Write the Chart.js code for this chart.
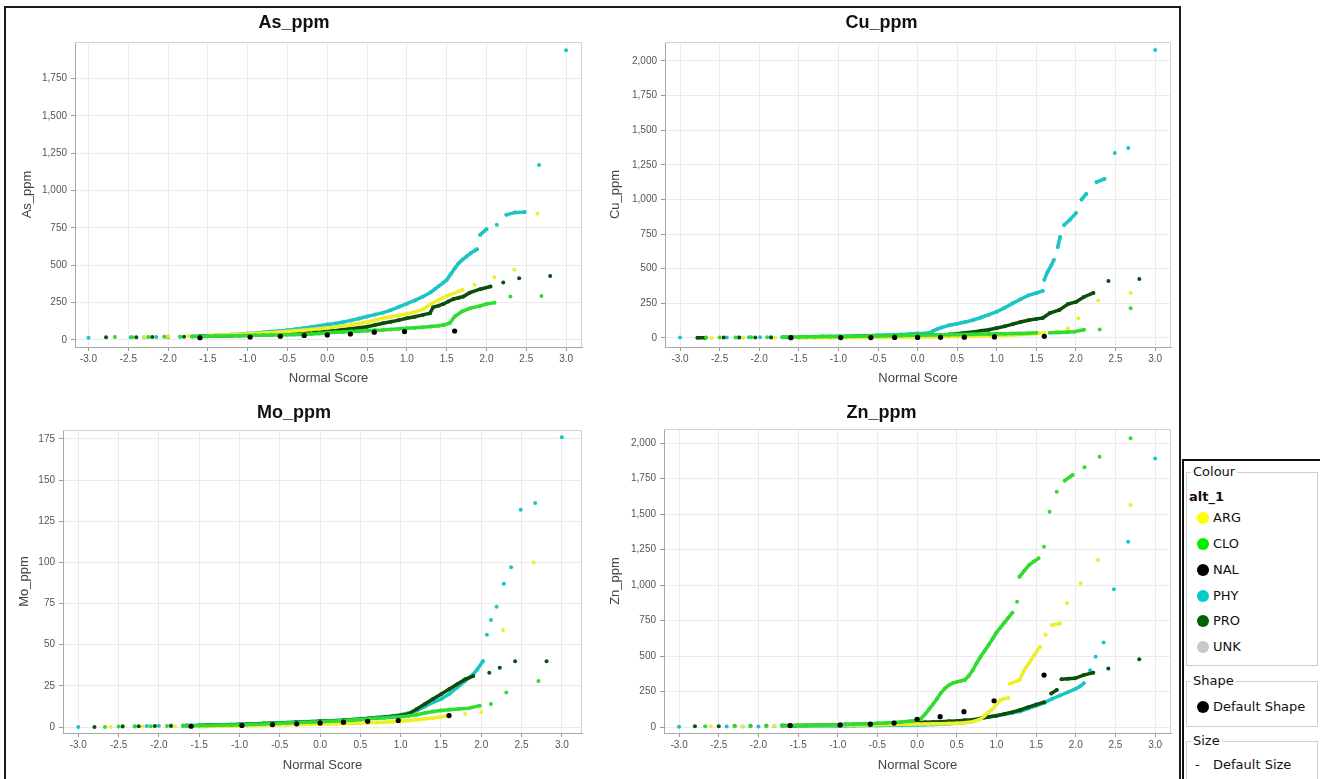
<!DOCTYPE html>
<html>
<head>
<meta charset="utf-8">
<script src="https://cdn.jsdelivr.net/npm/chart.js@4.4.0/dist/chart.umd.min.js"></script>
<style>
  body { margin: 0; width: 1320px; height: 779px; overflow: hidden; position: relative; background: #fff; font-family: "DejaVu Sans", sans-serif; }
  #frame { position: absolute; left: 4px; top: 6px; width: 1177px; height: 800px; border: 2px solid #1a1a1a; box-sizing: border-box; }
  #lgframe { position: absolute; left: 1182px; top: 459px; width: 160px; height: 400px; border: 2px solid #111; box-sizing: border-box; }
  canvas { position: absolute; }
  .box { position: absolute; border: 1px solid #cfcfcf; box-sizing: border-box; }
  .cap { position: absolute; font-size: 13px; line-height: 16px; color: #111; background: #fff; padding: 0 2px; }
  .lab { position: absolute; font-size: 13px; line-height: 16px; color: #111; }
  .dot { position: absolute; width: 12px; height: 12px; border-radius: 50%; }
</style>
</head>
<body>
<div id="frame"></div>
<canvas id="cAs" width="584" height="385" style="left:6px;top:8px"></canvas>
<canvas id="cCu" width="586" height="385" style="left:592px;top:8px"></canvas>
<canvas id="cMo" width="584" height="384" style="left:6px;top:395px"></canvas>
<canvas id="cZn" width="586" height="384" style="left:592px;top:395px"></canvas>

<div id="lgframe"></div>
<div id="legend"></div>

<script>
// groups (alt_1) and their colours
var groupNames = ['ARG', 'CLO', 'NAL', 'PHY', 'PRO', 'UNK'];
var groupColours = ['#ffff00', '#00ee00', '#000000', '#00cccc', '#006400', '#c8c8c8'];
var plotColours = ['#eeee2a', '#2fdc2f', '#000000', '#1cc4c4', '#0b4f0b', '#bdbdbd'];
var xTicks = [-3.0, -2.5, -2.0, -1.5, -1.0, -0.5, 0.0, 0.5, 1.0, 1.5, 2.0, 2.5, 3.0];
var xTickLabels = ['-3.0', '-2.5', '-2.0', '-1.5', '-1.0', '-0.5', '0.0', '0.5', '1.0', '1.5', '2.0', '2.5', '3.0'];
var ppmTicks = [0, 250, 500, 750, 1000, 1250, 1500, 1750, 2000];
var moTicks = [0, 25, 50, 75, 100, 125, 150, 175];

// ---- As_ppm : [normal score, value]
var asARG = [[-2.67,20],[-2.3,22],[-2.0,24],[-1.75,26],[-1.5,29],[-1.4,31],[-1.3,33],[-1.2,35],[-1.1,37],[-1.0,40],[-0.9,43],[-0.8,46],[-0.7,49],[-0.6,53],[-0.5,57],[-0.4,61],[-0.3,65],[-0.2,70],[-0.1,75],[0.0,80],[0.1,86],[0.2,93],[0.3,101],[0.4,110],[0.5,120],[0.6,132],[0.7,145],[0.8,155],[0.9,165],[1.0,175],[1.1,188],[1.2,205],[1.3,240],[1.4,268],[1.5,295],[1.6,315],[1.7,335],[1.85,370],[2.1,420],[2.35,470],[2.64,845]];
var asCLO = [[-2.67,20],[-2.45,19],[-2.25,20],[-2.05,21],[-1.85,22],[-1.7,23],[-1.6,24],[-1.5,25],[-1.4,26],[-1.3,27],[-1.2,28],[-1.1,29],[-1.0,30],[-0.9,31],[-0.8,32],[-0.7,33],[-0.6,34],[-0.5,35],[-0.4,36],[-0.3,37],[-0.2,40],[-0.1,44],[0.0,48],[0.1,51],[0.2,54],[0.3,56],[0.4,59],[0.5,62],[0.6,65],[0.7,67],[0.8,71],[0.9,75],[1.0,78],[1.1,82],[1.2,86],[1.3,91],[1.4,96],[1.46,100],[1.54,114],[1.6,157],[1.69,190],[1.79,212],[1.92,228],[2.0,241],[2.1,250],[2.3,291],[2.69,295]];
var asNAL = [[-1.6,15],[-0.97,20],[-0.59,25],[-0.29,30],[0.0,34],[0.29,40],[0.59,52],[0.97,56],[1.6,60]];
var asPHY = [[-3.0,15],[-2.47,18],[-2.3,19],[-2.15,20],[-2.0,21],[-1.85,22],[-1.7,24],[-1.6,26],[-1.5,28],[-1.4,30],[-1.3,33],[-1.2,36],[-1.1,39],[-1.0,43],[-0.9,47],[-0.8,51],[-0.7,56],[-0.6,61],[-0.5,66],[-0.4,72],[-0.3,79],[-0.2,87],[-0.1,95],[0.0,103],[0.1,110],[0.2,120],[0.3,131],[0.4,144],[0.5,157],[0.6,170],[0.7,183],[0.8,200],[0.9,222],[1.0,243],[1.1,265],[1.2,290],[1.3,320],[1.35,340],[1.4,360],[1.45,380],[1.5,402],[1.55,440],[1.6,478],[1.65,514],[1.7,538],[1.75,559],[1.8,580],[1.85,598],[1.88,608],[1.92,704],[2.0,742],[2.13,771],[2.25,838],[2.36,854],[2.48,856],[2.66,1172],[3.0,1940]];
var asPRO = [[-2.78,18],[-2.4,19],[-2.2,20],[-2.0,21],[-1.8,22],[-1.6,24],[-1.5,25],[-1.4,26],[-1.3,27],[-1.2,28],[-1.1,30],[-1.0,31],[-0.9,33],[-0.8,35],[-0.7,37],[-0.6,40],[-0.5,43],[-0.4,46],[-0.3,50],[-0.2,54],[-0.1,58],[0.0,62],[0.1,65],[0.2,70],[0.3,76],[0.4,82],[0.5,89],[0.6,100],[0.7,112],[0.8,122],[0.9,133],[1.0,145],[1.1,156],[1.2,168],[1.29,179],[1.33,219],[1.4,230],[1.46,241],[1.52,258],[1.58,273],[1.65,283],[1.71,291],[1.79,317],[1.92,340],[2.05,358],[2.21,385],[2.41,414],[2.8,429]];
var asUNK = [[-0.43,35],[0.0,50],[0.43,70]];

// ---- Cu_ppm
var cuARG = [[-2.6,0],[-2.2,1],[-1.8,2],[-1.5,1],[-1.4,1],[-1.3,2],[-1.2,2],[-1.1,2],[-1.0,3],[-0.9,3],[-0.8,3],[-0.7,4],[-0.6,4],[-0.5,5],[-0.4,5],[-0.3,6],[-0.2,6],[-0.1,7],[0.0,7],[0.1,8],[0.2,8],[0.3,9],[0.4,10],[0.5,11],[0.6,12],[0.7,13],[0.8,14],[0.9,16],[1.0,18],[1.1,20],[1.2,22],[1.3,25],[1.4,28],[1.5,32],[1.6,36],[1.75,48],[1.9,70],[2.03,140],[2.28,270],[2.69,325]];
var cuCLO = [[-2.67,3],[-2.5,3],[-2.3,4],[-2.1,5],[-1.9,6],[-1.7,7],[-1.6,8],[-1.5,8],[-1.4,9],[-1.3,9],[-1.2,10],[-1.1,10],[-1.0,11],[-0.9,11],[-0.8,12],[-0.7,13],[-0.6,14],[-0.5,15],[-0.4,16],[-0.3,17],[-0.2,18],[-0.1,19],[0.0,20],[0.1,21],[0.2,22],[0.3,23],[0.4,24],[0.5,25],[0.6,26],[0.7,27],[0.8,28],[0.9,29],[1.0,30],[1.1,31],[1.2,32],[1.3,33],[1.4,35],[1.5,37],[1.67,38],[1.79,40],[1.9,43],[1.98,46],[2.1,60],[2.3,62],[2.69,215]];
var cuNAL = [[-1.6,2],[-0.97,3],[-0.59,3],[-0.29,4],[0.0,4],[0.29,5],[0.59,6],[0.97,8],[1.6,12]];
var cuPHY = [[-3.0,3],[-2.41,4],[-2.27,4],[-2.13,5],[-1.99,5],[-1.85,6],[-1.71,6],[-1.57,7],[-1.43,8],[-1.3,9],[-1.2,10],[-1.1,11],[-1.0,12],[-0.9,13],[-0.8,14],[-0.7,15],[-0.6,17],[-0.5,19],[-0.4,21],[-0.3,23],[-0.2,26],[-0.1,29],[0.0,32],[0.1,35],[0.15,38],[0.2,52],[0.25,65],[0.3,75],[0.4,92],[0.5,103],[0.6,115],[0.7,130],[0.8,148],[0.9,168],[1.0,190],[1.1,218],[1.2,250],[1.3,280],[1.4,308],[1.5,325],[1.58,340],[1.6,420],[1.64,476],[1.69,527],[1.72,563],[1.77,657],[1.8,729],[1.85,816],[1.92,852],[2.0,902],[2.07,1000],[2.13,1040],[2.26,1126],[2.36,1148],[2.49,1336],[2.66,1372],[3.0,2080]];
var cuPRO = [[-2.78,2],[-2.68,2],[-2.45,3],[-2.25,3],[-2.05,4],[-1.85,4],[-1.65,5],[-1.5,5],[-1.4,6],[-1.3,6],[-1.2,7],[-1.1,7],[-1.0,8],[-0.9,9],[-0.8,10],[-0.7,11],[-0.6,12],[-0.5,13],[-0.4,14],[-0.3,15],[-0.2,16],[-0.1,17],[0.0,18],[0.1,19],[0.2,19],[0.3,20],[0.4,25],[0.5,31],[0.6,38],[0.7,44],[0.8,52],[0.9,60],[1.0,72],[1.1,84],[1.2,100],[1.3,115],[1.4,128],[1.5,138],[1.58,144],[1.67,180],[1.79,202],[1.9,245],[2.0,260],[2.1,296],[2.22,325],[2.41,411],[2.8,426]];
var cuUNK = [[-0.43,10],[0.0,15],[0.43,20]];

// ---- Mo_ppm
var moARG = [[-2.6,0],[-2.2,0.2],[-1.8,0.3],[-1.5,0.4],[-1.4,0.5],[-1.3,0.5],[-1.2,0.6],[-1.1,0.7],[-1.0,0.8],[-0.9,0.9],[-0.8,1],[-0.7,1.1],[-0.6,1.2],[-0.5,1.3],[-0.4,1.4],[-0.3,1.5],[-0.2,1.6],[-0.1,1.7],[0.0,1.8],[0.1,1.9],[0.2,2],[0.3,2.1],[0.4,2.2],[0.5,2.4],[0.6,2.6],[0.7,2.8],[0.8,3],[0.9,3.3],[1.0,3.6],[1.1,4],[1.2,4.5],[1.3,5],[1.4,5.5],[1.5,6.2],[1.6,7],[1.8,8],[2.0,9],[2.27,59],[2.65,100]];
var moCLO = [[-2.67,0],[-2.5,0.3],[-2.3,0.4],[-2.1,0.5],[-1.9,0.6],[-1.7,0.7],[-1.6,0.8],[-1.5,0.9],[-1.4,1],[-1.3,1.1],[-1.2,1.2],[-1.1,1.3],[-1.0,1.4],[-0.9,1.5],[-0.8,1.7],[-0.7,1.9],[-0.6,2.1],[-0.5,2.3],[-0.4,2.5],[-0.3,2.7],[-0.2,2.9],[-0.1,3.1],[0.0,3.3],[0.1,3.5],[0.2,3.7],[0.3,4],[0.4,4.3],[0.5,4.6],[0.6,5],[0.7,5.3],[0.8,5.6],[0.9,6],[1.0,6.3],[1.1,6.8],[1.2,7.5],[1.3,8.5],[1.4,9.5],[1.5,10],[1.6,10.5],[1.72,11],[1.85,11.5],[1.98,13],[2.12,14],[2.31,21],[2.71,28]];
var moNAL = [[-1.6,0.5],[-0.97,1],[-0.59,1.5],[-0.29,2],[0.0,2.5],[0.29,3],[0.59,3.5],[0.97,4],[1.6,7]];
var moPHY = [[-3.0,0],[-2.45,0.5],[-2.3,0.5],[-2.15,0.7],[-2.0,0.8],[-1.85,0.9],[-1.7,1],[-1.6,1],[-1.5,1.1],[-1.4,1.2],[-1.3,1.3],[-1.2,1.4],[-1.1,1.5],[-1.0,1.7],[-0.9,1.8],[-0.8,2],[-0.7,2.2],[-0.6,2.4],[-0.5,2.6],[-0.4,2.8],[-0.3,3],[-0.2,3.2],[-0.1,3.4],[0.0,3.6],[0.1,3.8],[0.2,4],[0.3,4.3],[0.4,4.6],[0.5,5],[0.6,5.4],[0.7,5.8],[0.8,6.3],[0.9,6.8],[1.0,7.5],[1.1,8.5],[1.2,10],[1.3,12.5],[1.4,15],[1.5,17],[1.6,20],[1.7,24],[1.8,28],[1.9,32],[1.95,35],[2.02,40],[2.07,56],[2.12,65],[2.19,73],[2.28,87],[2.37,97],[2.49,132],[2.67,136],[3.0,176]];
var moPRO = [[-2.8,0],[-2.45,0.4],[-2.25,0.5],[-2.05,0.6],[-1.85,0.7],[-1.65,0.9],[-1.5,1],[-1.4,1.1],[-1.3,1.2],[-1.2,1.3],[-1.1,1.4],[-1.0,1.6],[-0.9,1.7],[-0.8,1.9],[-0.7,2.1],[-0.6,2.3],[-0.5,2.5],[-0.4,2.7],[-0.3,2.9],[-0.2,3.1],[-0.1,3.3],[0.0,3.5],[0.1,3.7],[0.2,3.9],[0.3,4.2],[0.4,4.5],[0.5,4.8],[0.6,5.2],[0.7,5.6],[0.8,6],[0.9,6.5],[1.0,7],[1.1,8],[1.2,11],[1.3,14],[1.4,17],[1.5,20],[1.6,23],[1.7,26],[1.8,29],[1.9,31],[2.1,33],[2.23,36],[2.42,40],[2.81,40]];
var moUNK = [[-0.43,1.5],[0.0,2.5],[0.43,4]];

// ---- Zn_ppm
var znARG = [[-2.6,5],[-2.2,6],[-1.8,8],[-1.5,9],[-1.4,10],[-1.3,10],[-1.2,11],[-1.1,11],[-1.0,12],[-0.9,12],[-0.8,13],[-0.7,14],[-0.6,15],[-0.5,16],[-0.4,17],[-0.3,18],[-0.2,19],[-0.1,20],[0.0,21],[0.1,22],[0.2,23],[0.3,24],[0.4,25],[0.5,27],[0.6,30],[0.7,38],[0.8,55],[0.85,80],[0.9,105],[0.95,125],[1.0,160],[1.05,190],[1.1,200],[1.15,205],[1.17,305],[1.29,331],[1.35,400],[1.41,449],[1.48,510],[1.55,566],[1.62,650],[1.7,718],[1.8,730],[1.89,871],[2.06,1012],[2.28,1176],[2.69,1563]];
var znCLO = [[-2.67,5],[-2.3,5],[-2.1,6],[-1.9,7],[-1.7,8],[-1.6,9],[-1.5,10],[-1.4,11],[-1.3,12],[-1.2,13],[-1.1,14],[-1.0,15],[-0.9,17],[-0.8,19],[-0.7,21],[-0.6,23],[-0.5,26],[-0.4,29],[-0.3,32],[-0.2,36],[-0.1,41],[0.0,48],[0.05,60],[0.1,90],[0.15,125],[0.2,160],[0.25,200],[0.3,240],[0.35,272],[0.4,295],[0.45,310],[0.5,318],[0.55,325],[0.6,332],[0.65,360],[0.7,400],[0.75,450],[0.8,495],[0.85,535],[0.9,577],[0.95,620],[1.0,665],[1.05,700],[1.1,735],[1.15,770],[1.2,805],[1.26,882],[1.29,1058],[1.35,1100],[1.41,1141],[1.47,1165],[1.53,1188],[1.6,1270],[1.67,1516],[1.76,1657],[1.86,1735],[1.96,1775],[2.11,1829],[2.3,1904],[2.69,2033]];
var znNAL = [[-1.6,10],[-0.97,15],[-0.59,20],[-0.29,28],[0.0,54],[0.29,73],[0.59,108],[0.97,185],[1.6,366]];
var znPHY = [[-3.0,2],[-2.4,3],[-2.2,3],[-2.0,4],[-1.8,5],[-1.6,5],[-1.5,6],[-1.4,6],[-1.3,7],[-1.2,7],[-1.1,8],[-1.0,8],[-0.9,9],[-0.8,9],[-0.7,10],[-0.6,10],[-0.5,11],[-0.4,12],[-0.3,12],[-0.2,13],[-0.1,14],[0.0,15],[0.1,16],[0.2,18],[0.3,20],[0.4,23],[0.5,27],[0.6,32],[0.7,40],[0.8,61],[0.9,72],[1.0,80],[1.1,90],[1.2,100],[1.3,110],[1.4,130],[1.5,150],[1.6,170],[1.7,198],[1.8,222],[1.9,245],[2.0,270],[2.05,285],[2.1,308],[2.18,400],[2.25,495],[2.35,596],[2.48,970],[2.66,1305],[3.0,1892]];
var znPRO = [[-2.8,5],[-2.5,6],[-2.3,7],[-2.1,8],[-1.9,9],[-1.7,10],[-1.6,10],[-1.5,11],[-1.4,12],[-1.3,13],[-1.2,14],[-1.1,15],[-1.0,16],[-0.9,17],[-0.8,18],[-0.7,19],[-0.6,20],[-0.5,22],[-0.4,24],[-0.3,26],[-0.2,28],[-0.1,30],[0.0,32],[0.1,34],[0.2,36],[0.3,38],[0.4,40],[0.5,43],[0.6,47],[0.7,52],[0.8,60],[0.9,70],[1.0,80],[1.1,92],[1.2,105],[1.3,120],[1.4,140],[1.5,158],[1.6,175],[1.69,237],[1.76,261],[1.82,336],[1.9,340],[1.99,343],[2.1,366],[2.22,383],[2.41,413],[2.8,477]];
var znUNK = [[-0.43,20],[0.0,30],[0.43,40]];

var FONT = '"Liberation Sans", Arial, sans-serif';
var drawOrder = [2, 1, 0, 4, 3, 5]; // lower = drawn on top

// light box round the plot area (top and right edges)
var plotBox = {
  id: 'plotBox',
  beforeDatasetsDraw: function(chart) {
    var a = chart.chartArea, ctx = chart.ctx;
    ctx.save();
    ctx.strokeStyle = '#d2d2d2';
    ctx.lineWidth = 1;
    ctx.beginPath();
    ctx.moveTo(a.left, a.top + 0.5);
    ctx.lineTo(a.right - 0.5, a.top + 0.5);
    ctx.lineTo(a.right - 0.5, a.bottom);
    ctx.stroke();
    ctx.restore();
  }
};

function keepTicks(list) {
  return function(scale) {
    scale.ticks = list.filter(function(v) { return v >= scale.min && v <= scale.max; })
                      .map(function(v) { return {value: v}; });
  };
}

function panel(id, o) {
  var datasets = o.series.map(function(s, i) {
    var col = plotColours[i];
    return {
      label: groupNames[i],
      data: s.map(function(p) { return {x: p[0], y: p[1]}; }),
      order: drawOrder[i],
      pointRadius: i === 2 ? 2.6 : 2,
      pointBorderWidth: 0,
      pointBackgroundColor: col,
      showLine: true,
      borderWidth: 3.5,
      borderCapStyle: 'round',
      borderColor: col,
      // dense runs of points read as a band; sparse tail points stay apart
      segment: {
        borderColor: function(ctx) {
          var d = Math.hypot(ctx.p1.x - ctx.p0.x, ctx.p1.y - ctx.p0.y);
          return d < 11 ? col : 'rgba(0,0,0,0)';
        }
      }
    };
  });

  new Chart(document.getElementById(id), {
    type: 'scatter',
    data: { datasets: datasets },
    options: {
      responsive: false,
      animation: false,
      devicePixelRatio: 1,
      layout: { padding: { left: 0, right: o.padRight, top: 0, bottom: 0 } },
      plugins: {
        legend: { display: false },
        tooltip: { enabled: false },
        title: {
          display: true, text: o.title, color: '#111',
          font: { family: FONT, size: 18, weight: 'bold' },
          padding: { top: o.tTop, bottom: o.tBottom }
        }
      },
      scales: {
        x: {
          type: 'linear', min: o.xMin, max: o.xMax,
          afterFit: function(s) { s.height = 46; },
          afterBuildTicks: keepTicks(xTicks),
          ticks: {
            autoSkip: false, maxRotation: 0,
            color: '#555', padding: 2, font: { family: FONT, size: 10 },
            callback: function(v) { return xTickLabels[xTicks.indexOf(v)]; }
          },
          title: { display: true, text: 'Normal Score', color: '#444', font: { family: FONT, size: 13 }, padding: { top: 0, bottom: o.xtPad } },
          grid: { color: '#ebebeb', tickColor: '#9a9a9a', tickLength: 4 },
          border: { color: '#a8a8a8' }
        },
        y: {
          type: 'linear', min: o.yMin, max: o.yMax,
          afterFit: function(s) { s.width = o.yW; },
          afterBuildTicks: keepTicks(o.yTicks),
          ticks: {
            autoSkip: false,
            color: '#555', padding: 4, font: { family: FONT, size: 10 },
            callback: function(v) { return v.toLocaleString('en-US'); }
          },
          title: { display: true, text: o.yTitle, color: '#444', font: { family: FONT, size: 13 }, padding: { top: o.ytPad, bottom: 0 } },
          grid: { color: '#ebebeb', tickColor: '#9a9a9a', tickLength: 4 },
          border: { color: '#a8a8a8' }
        }
      }
    },
    plugins: [plotBox]
  });
}

panel('cAs', { title: 'As_ppm', yTitle: 'As_ppm', series: [asARG, asCLO, asNAL, asPHY, asPRO, asUNK],
  xMin: -3.17, xMax: 3.2, yMin: -47, yMax: 1995, yTicks: ppmTicks, yW: 69, padRight: 8, tTop: 4, tBottom: 8.4, xtPad: 7, ytPad: 14 });
panel('cCu', { title: 'Cu_ppm', yTitle: 'Cu_ppm', series: [cuARG, cuCLO, cuNAL, cuPHY, cuPRO, cuUNK],
  xMin: -3.19, xMax: 3.2, yMin: -65, yMax: 2137, yTicks: ppmTicks, yW: 73, padRight: 7, tTop: 4, tBottom: 8.4, xtPad: 7, ytPad: 16 });
panel('cMo', { title: 'Mo_ppm', yTitle: 'Mo_ppm', series: [moARG, moCLO, moNAL, moPHY, moPRO, moUNK],
  xMin: -3.19, xMax: 3.25, yMin: -3.6, yMax: 180.4, yTicks: moTicks, yW: 57, padRight: 8, tTop: 7, tBottom: 6.4, xtPad: 6, ytPad: 11 });
panel('cZn', { title: 'Zn_ppm', yTitle: 'Zn_ppm', series: [znARG, znCLO, znNAL, znPHY, znPRO, znUNK],
  xMin: -3.19, xMax: 3.2, yMin: -42, yMax: 2099, yTicks: ppmTicks, yW: 72, padRight: 7, tTop: 7, tBottom: 5.4, xtPad: 6, ytPad: 16 });

// ---- legend panel
(function() {
  var lg = document.getElementById('legend');
  var html = '';
  html += '<div class="box" style="left:1186px;top:472px;width:132px;height:194px"></div>';
  html += '<div class="cap" style="left:1191px;top:464px">Colour</div>';
  html += '<div class="lab" style="left:1189px;top:489px;font-weight:bold">alt_1</div>';
  var rowY = [518, 544, 570, 596, 621, 647];
  groupNames.forEach(function(n, i) {
    html += '<div class="dot" style="left:1197px;top:' + (rowY[i] - 6) + 'px;background:' + groupColours[i] + '"></div>';
    html += '<div class="lab" style="left:1213px;top:' + (rowY[i] - 8) + 'px">' + n + '</div>';
  });
  html += '<div class="box" style="left:1186px;top:681px;width:132px;height:46px"></div>';
  html += '<div class="cap" style="left:1191px;top:673px">Shape</div>';
  html += '<div class="dot" style="left:1197px;top:701px;background:#000"></div>';
  html += '<div class="lab" style="left:1213px;top:699px">Default Shape</div>';
  html += '<div class="box" style="left:1186px;top:741px;width:132px;height:60px"></div>';
  html += '<div class="cap" style="left:1191px;top:733px">Size</div>';
  html += '<div class="lab" style="left:1195px;top:757px">-</div>';
  html += '<div class="lab" style="left:1213px;top:757px">Default Size</div>';
  lg.innerHTML = html;
})();
</script>
</body>
</html>
